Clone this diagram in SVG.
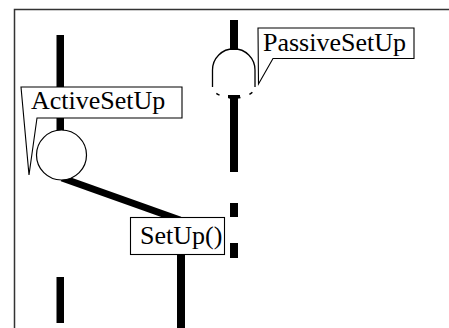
<svg xmlns="http://www.w3.org/2000/svg" width="449" height="328" viewBox="0 0 449 328">
<style>
.frame{fill:none;stroke:#333;stroke-width:1.5}
.life{fill:#000}
.thin{fill:#fff;stroke:#000;stroke-width:1.2}
.note{fill:#fff;stroke:#000;stroke-width:1.1}
.lbl{font-size:26px;fill:#000}
</style>
<rect width="449" height="328" fill="#fff"/>
<path class="frame" d="M14.5 328 V9.5 H449"/>
<g id="connectors">
  <rect class="life" x="56.5" y="35" width="7.5" height="96"/>
  <line x1="62" y1="178" x2="180" y2="220" stroke="#000" stroke-width="7"/>
  <rect class="life" x="177" y="254" width="8" height="74"/>
  <rect class="life" x="56.5" y="277" width="7.5" height="46"/>
  <rect class="life" x="230" y="20" width="8" height="30"/>
  <rect class="life" x="230" y="95" width="8" height="77"/>
  <rect class="life" x="230" y="203" width="8" height="14"/>
  <rect class="life" x="230" y="243" width="8" height="15"/>
</g>
<g id="active">
  <circle class="thin" cx="61.5" cy="155" r="25"/>
</g>
<g id="passive">
  <path d="M212.5 87 V70 A21.25 21.25 0 0 1 255 70 V87" fill="none" stroke="#000" stroke-width="1.3"/>
  <path d="M212.5 87 A21.25 11 0 0 0 255 87" fill="none" stroke="#000" stroke-width="1.5" stroke-dasharray="0 7.8 3.5 9.3 12 9.3 3.5 20"/>
  <rect class="life" x="228" y="95" width="12" height="3"/>
</g>
<g id="setup">
  <rect class="note" x="130.5" y="217.5" width="94" height="37"/>
  <text class="lbl" font-family="'Liberation Serif', 'Times New Roman', serif" x="140" y="244">SetUp()</text>
</g>
<g id="note-active">
  <path class="note" d="M21 87 H182 V118 H37 L29 175 Z"/>
  <text class="lbl" font-family="'Liberation Serif', 'Times New Roman', serif" x="31" y="109">ActiveSetUp</text>
</g>
<g id="note-passive">
  <path class="note" d="M258 28 H414 V58.5 H273 L258.5 84 Z"/>
  <text class="lbl" font-family="'Liberation Serif', 'Times New Roman', serif" x="263" y="51">PassiveSetUp</text>
</g>
</svg>
